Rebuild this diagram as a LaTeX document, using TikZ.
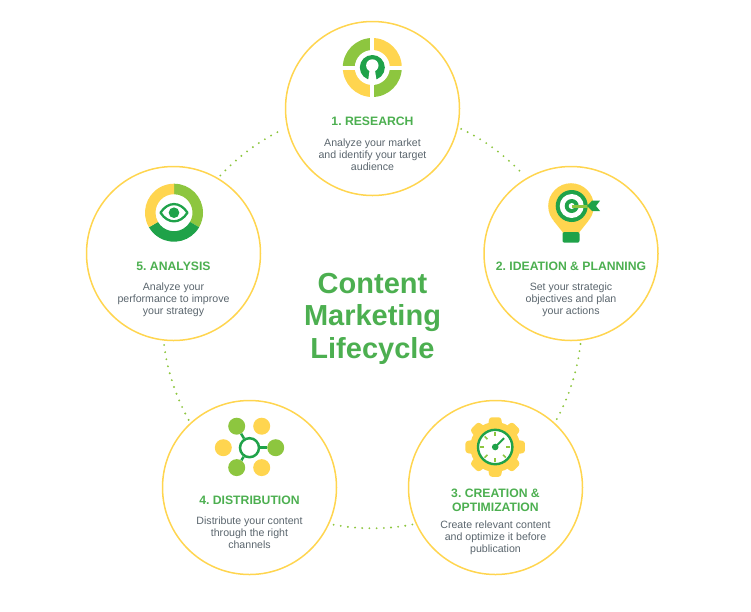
\documentclass[tikz,border=0pt]{standalone}
\usepackage{fontspec}
\setmainfont{Liberation Sans}
\usepackage{tikz}
\usetikzlibrary{positioning}
\definecolor{ringyellow}{HTML}{FFD54F}
\definecolor{leafgreen}{HTML}{8DC63F}
\definecolor{deepgreen}{HTML}{1FA249}
\definecolor{headgreen}{HTML}{4CAF50}
\definecolor{bodygrey}{HTML}{5A656D}
\frenchspacing

\begin{document}
\begin{tikzpicture}[x=1pt, y=-1pt, stage/.style={circle, draw=ringyellow, line width=1.5pt, minimum size=174pt, inner sep=0pt, outer sep=4pt}, headtext/.style={text=headgreen, align=center, inner sep=0pt, font=\bfseries\fontsize{12.2}{14}\selectfont}, bodytext/.style={text=bodygrey, align=center, inner sep=0pt, font=\fontsize{10.6}{12}\selectfont}, titletext/.style={text=headgreen, align=center, inner sep=0pt, font=\bfseries\fontsize{29}{32.5}\selectfont}, link/.style={leafgreen, line width=2.1pt, line cap=round, dash pattern=on 0pt off 7.2pt}, hubdot/.style={circle, minimum size=17pt, inner sep=0pt}, spoke/.style={deepgreen, line width=2.5pt}]
\useasboundingbox (0,0) rectangle (751,611);

\node [stage] (research) at (372.5,108.5) {};
\node [stage] (ideation) at (571,253.5) {};
\node [stage] (creation) at (495.5,487.5) {};
\node [stage] (distribution) at (249.5,487.5) {};
\node [stage] (analysis) at (173.5,253.5) {};

\draw [link] (research.-13) .. controls +(25.1:26.5) and +(226.6:26.5) .. (ideation.121);
\draw [link] (ideation.-84) .. controls +(96.8:26.5) and +(298.8:26.5) .. (creation.48);
\draw [link] (creation.-156) .. controls +(169:26.5) and +(11:26.5) .. (distribution.-24);
\draw [link] (distribution.132) .. controls +(241.2:26.5) and +(83.2:26.5) .. (analysis.-96);
\draw [link] (analysis.59) .. controls +(-46.6:26.5) and +(154.9:26.5) .. (research.193);

\node [titletext] (title) at (372.5,318.5) {Content\\Marketing\\Lifecycle};

\node [headtext] (researchhead) at (372.5,121) {1. RESEARCH};
\node [bodytext] (researchbody) at (372.5,154.5) {Analyze your market\\and identify your target\\audience};
\node [headtext] (ideationhead) at (571,266) {2. IDEATION \& PLANNING};
\node [bodytext] (ideationbody) at (571,299.5) {Set your strategic\\objectives and plan\\your actions};
\node [headtext] (creationhead) at (495.5,500) {3. CREATION \&\\OPTIMIZATION};
\node [bodytext] (creationbody) at (495.5,537.5) {Create relevant content\\and optimize it before\\publication};
\node [headtext] (distributionhead) at (249.5,500) {4. DISTRIBUTION};
\node [bodytext] (distributionbody) at (249.5,533) {Distribute your content\\through the right\\channels};
\node [headtext] (analysishead) at (173.5,266) {5. ANALYSIS};
\node [bodytext] (analysisbody) at (173.5,299.5) {Analyze your\\performance to improve\\your strategy};

\begin{scope}[shift={(372.3,67.5)}]
\foreach \a/\c in {180/leafgreen, 270/ringyellow, 0/leafgreen, 90/ringyellow}
  \fill [\c] (0,0) -- (\a:29.5) arc [start angle=\a, delta angle=90, radius=29.5] -- cycle;
\draw [white, line width=4pt] (-31,0) -- (31,0) (0,-31) -- (0,31);
\fill [white] (0,0) circle [radius=17.5];
\fill [deepgreen] (0,0) circle [radius=12.5];
\fill [white] (0,-2) circle [radius=6.2];
\fill [white] (-2.6,2) -- (2.6,2) -- (4.2,13) -- (-4.2,13) -- cycle;
\end{scope}

\begin{scope}[shift={(571,206)}]
\fill [ringyellow] (0,0) circle [radius=22.8];
\fill [ringyellow] (-17.7,14.5) -- (17.7,14.5) -- (8.5,26) -- (8.5,27) -- (-8.5,27) -- (-8.5,26) -- cycle;
\fill [deepgreen, rounded corners=2pt] (-8.5,26) rectangle (8.5,36.7);
\fill [deepgreen] (0.7,0) circle [radius=16];
\fill [white] (0.7,0) circle [radius=12];
\fill [deepgreen] (0.7,0) circle [radius=7];
\fill [white] (0.7,0) circle [radius=3];
\draw [leafgreen, line width=3pt] (0.7,0) -- (17,0);
\fill [deepgreen] (16,0) -- (21,-5.3) -- (29,-5.3) -- (25,0) -- (29,5) -- (21,5) -- cycle;
\end{scope}

\begin{scope}[shift={(495.2,447)}]
\fill [ringyellow] (0,0) circle [radius=25];
\foreach \a in {0,45,...,315}
  \fill [ringyellow, rounded corners=2.5pt] (\a-18:23) -- (\a-11:30.3) -- (\a+11:30.3) -- (\a+18:23) -- cycle;
\draw [deepgreen, line width=2.4pt, fill=white] (0,0) circle [radius=17.2];
\foreach \a in {0,45,90,135,180,225,270}
  \draw [leafgreen, line width=1.5pt] (\a:11) -- (\a:15);
\draw [deepgreen, line width=2pt] (0,0) -- (-45:12.5);
\fill [deepgreen] (0,0) circle [radius=3.3];
\end{scope}

\node [hubdot, fill=leafgreen] (leafa) at (236.7,426.2) {};
\node [hubdot, fill=leafgreen] (leafb) at (275.7,447.7) {};
\node [hubdot, fill=leafgreen] (leafc) at (236.7,467.6) {};
\node [hubdot, fill=ringyellow] (sunna) at (261.7,426.2) {};
\node [hubdot, fill=ringyellow] (sunnb) at (223.3,447.7) {};
\node [hubdot, fill=ringyellow] (sunnc) at (261.7,467.6) {};
\node [circle, draw=deepgreen, line width=2.5pt, fill=white, minimum size=19pt, inner sep=0pt] (hub) at (249.5,447.7) {};
\draw [spoke] (hub) -- (leafa);
\draw [spoke] (hub) -- (leafb);
\draw [spoke] (hub) -- (leafc);

\begin{scope}[shift={(174,212.7)}]
\foreach \a/\b/\c in {270/390/leafgreen, 30/150/deepgreen, 150/270/ringyellow}
  \fill [\c] (\a:29) arc [start angle=\a, end angle=\b, radius=29] -- (\b:18.5) arc [start angle=\b, end angle=\a, radius=18.5] -- cycle;
\draw [deepgreen, line width=2.3pt, line join=round] (-13.5,0) .. controls (-6,-11.5) and (6,-11.5) .. (13.5,0) .. controls (6,11.5) and (-6,11.5) .. (-13.5,0) -- cycle;
\fill [deepgreen] (0,0) circle [radius=5.3];
\end{scope}
\end{tikzpicture}
\end{document}
